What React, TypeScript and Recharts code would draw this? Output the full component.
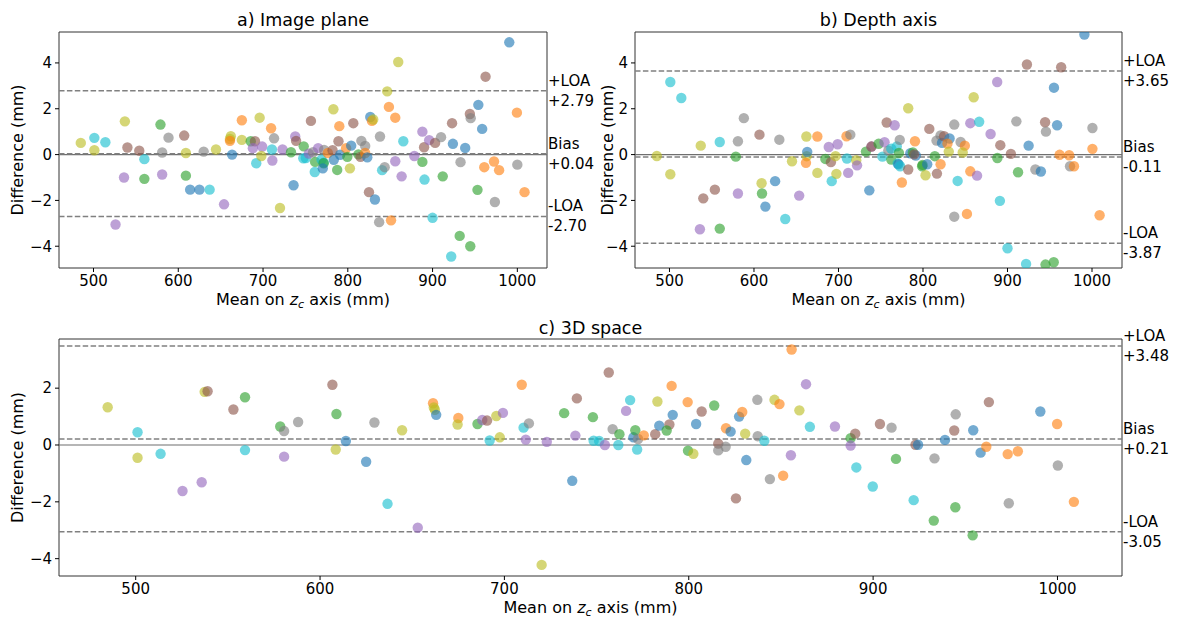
import React from 'react';
import { ScatterChart, Scatter, XAxis, YAxis, ReferenceLine, ReferenceArea } from 'recharts';

const FONT = '"DejaVu Sans", sans-serif';

const COLORS: Record<string, string> = {
  b: '#1f77b4', o: '#ff7f0e', g: '#2ca02c', p: '#9467bd',
  n: '#8c564b', k: '#7f7f7f', y: '#bcbd22', c: '#17becf',
};

const xTicks = [500, 600, 700, 800, 900, 1000];
const yTicksAB = [-4, -2, 0, 2, 4];
const yTicksC = [-4, -2, 0, 2];

// [bias, +LOA, -LOA]
const statsA = [0.04, 2.79, -2.70];
const statsB = [-0.11, 3.65, -3.87];
const statsC = [0.21, 3.48, -3.05];

// [mean z_c, difference, colour]
const panelA: [number, number, string][] = [
  [485,0.51,'y'],[501,0.73,'c'],[501,0.19,'y'],[514,0.54,'c'],[526,-3.05,'p'],[537,1.45,'y'],[536,-1.0,'p'],[540,0.31,'n'],
  [554,0.17,'n'],[560,-0.2,'c'],[560,-1.06,'g'],[579,1.31,'g'],[581,0.09,'k'],[581,-0.87,'p'],[588.5,0.74,'k'],[607,0.83,'n'],
  [609,0.07,'y'],[609,-0.92,'g'],[614,-1.53,'b'],[625,-1.53,'b'],[637,-1.53,'c'],[630,0.13,'k'],[644.5,0.22,'y'],[654,-2.17,'p'],
  [662,0.8,'y'],[661,0.68,'y'],[661,0.6,'o'],[663.5,0,'b'],[675,1.5,'o'],[675,0.64,'y'],[685.5,0.58,'g'],[690.5,0.58,'n'],
  [688,0.28,'p'],[696,1.61,'y'],[699,0.35,'p'],[692,-0.38,'c'],[698,-0.06,'y'],[709.5,1.15,'o'],[713,0.71,'k'],[710.5,0.22,'c'],
  [711,-0.26,'p'],[720,-2.33,'y'],[723,0.22,'p'],[733,0.1,'g'],[738,0.79,'p'],[739,0.6,'n'],[736,-1.34,'b'],[748,0.36,'g'],
  [747.5,-0.16,'c'],[750.5,-0.15,'c'],[756.5,1.47,'n'],[754,0.04,'p'],[759,0.1,'k'],[761.5,-0.32,'g'],[761,-0.76,'c'],[765,0.28,'p'],
  [772,0.2,'k'],[769,-0.22,'c'],[771.5,-0.35,'c'],[771.5,-0.38,'g'],[770.5,-0.6,'b'],[776.5,0.07,'o'],[782,0.19,'n'],[783.5,-0.23,'b'],
  [783,1.98,'y'],[787.5,-0.67,'g'],[789,0.58,'n'],[790,1.24,'o'],[791,-0.01,'b'],[798,0.28,'o'],[799.5,-0.1,'g'],[802.5,-0.6,'y'],
  [804,0.39,'b'],[806.5,1.37,'n'],[812.5,0.01,'g'],[815,-0.1,'n'],[816,0.6,'k'],[820.5,0.38,'k'],[820.5,0.07,'o'],[823,-0.12,'b'],
  [825,-1.64,'n'],[826.5,1.64,'b'],[828.5,1.47,'o'],[830,1.53,'y'],[832,-1.96,'b'],[837,-2.95,'k'],[838,0.79,'k'],[840.5,-0.68,'c'],
  [843.5,-0.55,'k'],[846.5,2.76,'y'],[848.5,2.08,'o'],[851,-2.87,'o'],[856,1.61,'o'],[856,-0.29,'p'],[859.5,4.04,'y'],[865.5,0.58,'c'],
  [863.5,-0.95,'p'],[878.5,-0.06,'p'],[888,1.0,'p'],[888,-0.32,'g'],[890.5,-1.09,'c'],[890,0.32,'n'],[896,0.63,'p'],[903,0.51,'n'],
  [910,0.76,'k'],[900,-2.76,'c'],[912,-0.95,'g'],[923,1.37,'n'],[924,0.47,'b'],[922,-4.45,'c'],[933,-0.33,'k'],[932,-3.55,'g'],
  [938.5,0.29,'b'],[944,1.77,'n'],[945,1.59,'k'],[944.5,-4.0,'g'],[954,2.17,'b'],[953,-1.54,'g'],[958.5,1.12,'b'],[961,-0.55,'o'],
  [962.5,3.4,'n'],[972.5,-0.3,'o'],[978.5,-0.68,'o'],[973.5,-2.07,'k'],[990.5,4.9,'b'],[999.5,1.83,'o'],[1000,-0.44,'k'],[1008.5,-1.64,'o'],
];

const panelB: [number, number, string][] = [
  [485,-0.06,'y'],[501,3.17,'c'],[501,-0.86,'y'],[514,2.47,'c'],[536,-3.26,'p'],[537,0.39,'y'],[540,-1.91,'n'],[553.7,-1.53,'n'],
  [559.5,0.55,'c'],[559.5,-3.23,'g'],[578.5,-0.09,'g'],[581,0.58,'k'],[581,-1.7,'p'],[588,1.59,'k'],[606.5,0.87,'n'],[609,-1.25,'y'],
  [609.5,-1.7,'g'],[613.5,-2.27,'b'],[625,-1.16,'b'],[637,-2.81,'c'],[630,0.65,'k'],[645,-0.29,'y'],[653.5,-1.79,'p'],[662,0.79,'y'],
  [662.4,-0.07,'y'],[663,0.12,'b'],[661.5,-0.36,'o'],[675,0.79,'o'],[675,-0.8,'y'],[684.5,-0.19,'g'],[691,-0.33,'n'],[688.5,0.33,'p'],
  [696.5,-0.07,'y'],[699,0.45,'p'],[692,-1.16,'c'],[697.5,-0.84,'y'],[709.5,0.8,'o'],[714,0.87,'k'],[710,-0.17,'c'],[711.5,-0.8,'p'],
  [721,-0.25,'y'],[722,-0.47,'p'],[732.5,0.13,'g'],[739,0.35,'p'],[739,0.35,'n'],[736.5,-1.56,'b'],[747.5,0.47,'g'],[752,-0.09,'c'],
  [754.5,0.54,'p'],[757,1.4,'n'],[759,0.17,'k'],[762.5,0.26,'c'],[762.5,-0.22,'g'],[766.5,1.28,'p'],[769,0.36,'c'],[772.5,0.64,'k'],
  [771.5,0.07,'g'],[770,-0.39,'c'],[771,-0.42,'b'],[773,-0.51,'c'],[775,-1.22,'o'],[782.5,-0.65,'n'],[785,0.06,'b'],[782.5,2.02,'y'],
  [788,0.09,'g'],[790.5,0.58,'o'],[791.5,-0.04,'b'],[789.5,0.01,'n'],[799,-0.51,'g'],[799.5,-0.45,'g'],[805,-0.42,'b'],[803,-0.9,'y'],
  [807.5,1.12,'n'],[814,-0.07,'g'],[816.5,-0.83,'n'],[816,0.61,'k'],[820.8,0.84,'k'],[820.8,-0.42,'o'],[822.5,0.51,'b'],[825,0.8,'n'],
  [831.5,0.7,'b'],[829,0.48,'o'],[830.5,0.13,'y'],[837,1.31,'k'],[837,-2.71,'k'],[844.5,0.55,'k'],[841,-1.15,'c'],[849.5,0.39,'o'],
  [847,0.09,'y'],[852,-2.59,'o'],[856,-0.73,'o'],[860,2.5,'y'],[856,1.37,'p'],[866.5,1.43,'c'],[864,-0.92,'p'],[880,0.9,'p'],
  [891.5,0.41,'n'],[887.8,3.17,'p'],[888,-0.15,'g'],[891,-2.02,'c'],[904,0.03,'n'],[900,-4.09,'c'],[910.5,1.45,'k'],[912.5,-0.77,'g'],
  [923,3.93,'n'],[925,0.39,'b'],[922,-4.77,'c'],[933,-0.65,'k'],[939.5,-0.74,'b'],[944.5,1.41,'n'],[945.5,1.0,'k'],[945,-4.8,'g'],
  [954.7,-4.7,'g'],[955,2.92,'b'],[958.7,1.28,'b'],[961.7,-0.01,'o'],[963.5,3.81,'n'],[973,-0.03,'o'],[974,-0.51,'k'],[978.7,-0.51,'o'],
  [991,5.24,'b'],[1000.5,1.16,'k'],[1000.5,0.25,'o'],[1009,-2.65,'o'],
];

const panelC: [number, number, string][] = [
  [484.8,1.33,'y'],[501,0.45,'c'],[501,-0.45,'y'],[513.5,-0.31,'c'],[525.4,-1.62,'p'],[535.8,-1.31,'p'],[537.4,1.87,'y'],[539,1.89,'n'],
  [553,1.25,'n'],[559.3,1.68,'g'],[559.3,-0.18,'c'],[578.4,0.65,'g'],[580.5,0.49,'k'],[580.5,-0.41,'p'],[588.1,0.81,'k'],[606.7,2.12,'n'],
  [608.9,1.09,'g'],[608.5,-0.16,'y'],[614,0.14,'b'],[625,-0.59,'b'],[629.5,0.79,'k'],[636.6,-2.07,'c'],[644.5,0.52,'y'],[653,-2.91,'p'],
  [661.3,1.47,'o'],[661.7,1.32,'y'],[662.3,1.24,'y'],[663,1.06,'b'],[675,0.95,'o'],[674.6,0.72,'y'],[685.4,0.74,'g'],[688,0.88,'p'],
  [690.6,0.86,'n'],[692,0.16,'c'],[695.6,1.02,'y'],[699.2,1.13,'p'],[697.5,0.27,'y'],[709.4,2.12,'o'],[710.4,0.61,'c'],[713.3,0.76,'k'],
  [711.6,0.19,'p'],[720.2,-4.22,'y'],[723,0.11,'p'],[732.4,1.12,'g'],[736.8,-1.26,'b'],[738.5,0.33,'p'],[739.3,1.64,'n'],[748,0.98,'g'],
  [748.4,0.15,'c'],[751.4,0.14,'c'],[756.6,2.55,'n'],[754.5,0.0,'p'],[758.7,0.56,'k'],[761.8,0.0,'c'],[762.4,0.38,'g'],[766,1.2,'p'],
  [768.2,1.58,'c'],[770,0.27,'b'],[771,0.52,'g'],[772.5,0.21,'k'],[772,-0.16,'c'],[775.6,0.34,'o'],[783,1.53,'y'],[781.8,0.38,'n'],
  [784,0.68,'b'],[789.5,0.72,'n'],[788,0.51,'g'],[790.7,2.08,'o'],[791.3,1.06,'b'],[799.4,1.51,'o'],[799.6,-0.2,'g'],[802.5,-0.31,'y'],
  [804,0.74,'b'],[807,1.18,'n'],[813.8,1.39,'g'],[816,0.05,'n'],[816,-0.19,'k'],[820,-0.06,'k'],[820.2,0.59,'o'],[822.7,0.47,'b'],
  [825.6,-1.88,'n'],[827.3,1.0,'b'],[829,1.16,'o'],[831.2,-0.53,'b'],[830.6,0.4,'y'],[837.2,1.59,'k'],[837.4,0.31,'k'],[841,0.15,'c'],
  [844,-1.2,'k'],[846.5,1.59,'y'],[849.2,1.44,'o'],[851.2,-1.08,'o'],[855.8,3.36,'o'],[855.4,-0.36,'p'],[860,1.22,'y'],[863.6,2.14,'p'],
  [865.7,0.64,'c'],[879.3,0.65,'p'],[887.8,0.24,'g'],[887.8,-0.02,'p'],[890.3,0.4,'n'],[890.9,-0.79,'c'],[899.8,-1.46,'c'],[903.7,0.74,'n'],
  [910,0.61,'k'],[912.4,-0.49,'g'],[922,-1.94,'c'],[923,0.01,'n'],[924.4,0.01,'b'],[933.3,-0.47,'k'],[932.9,-2.66,'g'],[939,0.18,'b'],
  [944.8,1.08,'k'],[944,0.51,'n'],[944.6,-2.19,'g'],[954.3,0.52,'b'],[954,-3.18,'g'],[958.3,-0.27,'b'],[961.4,-0.06,'o'],[962.8,1.51,'n'],
  [973,-0.32,'o'],[978.5,-0.22,'o'],[973.6,-2.05,'k'],[990.7,1.18,'b'],[999.8,0.74,'o'],[1000.2,-0.72,'k'],[1008.9,-2.0,'o'],
];

const fmtTick = (v: number) => String(v).replace('-', '\u2212');
const fmtStat = (v: number) => (v >= 0 ? '+' : '-') + Math.abs(v).toFixed(2);

const Dot = (props: any) => {
  const { cx, cy, payload } = props;
  if (cx == null || cy == null) return null;
  return <circle cx={cx} cy={cy} r={5.2} fill={COLORS[payload.c]} fillOpacity={0.62} />;
};

const XLab = (props: any) => {
  const vb = props.viewBox || { x: 0, y: 0, width: 0, height: 0 };
  return (
    <text x={vb.x + vb.width / 2} y={vb.y + 37} textAnchor="middle" fontFamily={FONT} fontSize={16} fill="#000">
      Mean on <tspan fontStyle="italic">z</tspan>
      <tspan fontStyle="italic" fontSize={11} dy={3}>c</tspan>
      <tspan dy={-3}> axis (mm)</tspan>
    </text>
  );
};

const YLab = (props: any) => {
  const vb = props.viewBox || { x: 0, y: 0, width: 0, height: 0 };
  const x = 17;
  const y = vb.y + vb.height / 2;
  return (
    <text x={x} y={y} transform={`rotate(-90, ${x}, ${y})`} textAnchor="middle" dominantBaseline="central"
      fontFamily={FONT} fontSize={16} fill="#000">
      Difference (mm)
    </text>
  );
};

const makeAnnot = (top: string, bottom: string) => (props: any) => {
  const vb = props.viewBox || { x: 0, y: 0, width: 0, height: 0 };
  const x = vb.x + vb.width + 1;
  const y = vb.y;
  return (
    <g>
      <text x={x} y={y - 10} dominantBaseline="central" fontFamily={FONT} fontSize={15} fill="#000">{top}</text>
      <text x={x} y={y + 10} dominantBaseline="central" fontFamily={FONT} fontSize={15} fill="#000">{bottom}</text>
    </g>
  );
};

type PanelProps = {
  rows: [number, number, string][];
  stats: number[];
  xDomain: [number, number];
  yDomain: [number, number];
  yTicks: number[];
  width: number;
  height: number;
  margin: { top: number; right: number; bottom: number; left: number };
  yAxisWidth: number;
};

function Panel({ rows, stats, xDomain, yDomain, yTicks, width, height, margin, yAxisWidth }: PanelProps) {
  const data = rows.map(([x, y, c]) => ({ x, y, c }));
  const tickStyle = { fontSize: 15, fill: '#000', fontFamily: FONT };
  return (
    <ScatterChart width={width} height={height} margin={margin}>
      <XAxis dataKey="x" type="number" domain={xDomain} ticks={xTicks} interval={0} allowDataOverflow
        axisLine={false} tickLine={{ stroke: '#000' }} tickSize={4} tickMargin={3} height={42}
        tick={tickStyle} label={<XLab />} />
      <YAxis dataKey="y" type="number" domain={yDomain} ticks={yTicks} interval={0} allowDataOverflow
        axisLine={false} tickLine={{ stroke: '#000' }} tickSize={4} tickMargin={3} width={yAxisWidth}
        tick={tickStyle} tickFormatter={fmtTick} label={<YLab />} />
      <ReferenceLine y={0} stroke="#6f6f6f" strokeWidth={1.2} />
      <ReferenceLine y={stats[1]} stroke="#808080" strokeWidth={1.5} strokeDasharray="5.5 2.4"
        label={makeAnnot('+LOA', fmtStat(stats[1]))} />
      <ReferenceLine y={stats[0]} stroke="#808080" strokeWidth={1.5} strokeDasharray="5.5 2.4"
        label={makeAnnot('Bias', fmtStat(stats[0]))} />
      <ReferenceLine y={stats[2]} stroke="#808080" strokeWidth={1.5} strokeDasharray="5.5 2.4"
        label={makeAnnot('-LOA', fmtStat(stats[2]))} />
      <Scatter data={data} shape={Dot} isAnimationActive={false} />
      <ReferenceArea x1={xDomain[0]} x2={xDomain[1]} y1={yDomain[0]} y2={yDomain[1]} ifOverflow="visible"
        fill="none" fillOpacity={0} stroke="#333" strokeWidth={1} />
    </ScatterChart>
  );
}

const titleStyle: React.CSSProperties = {
  position: 'absolute', textAlign: 'center', fontFamily: FONT, fontSize: 17.5, lineHeight: '20px', color: '#000',
};

export default function App() {
  return (
    <div style={{ position: 'absolute', left: 0, top: 0, width: 1178, height: 618, background: '#fff', overflow: 'hidden' }}>
      <div style={{ position: 'absolute', left: 0, top: 0 }}>
        <Panel rows={panelA} stats={statsA} xDomain={[459.3, 1035]} yDomain={[-4.95, 5.35]} yTicks={yTicksAB}
          width={600} height={310} margin={{ top: 32, right: 53, bottom: 0, left: 0 }} yAxisWidth={59} />
      </div>
      <div style={{ position: 'absolute', left: 590, top: 0 }}>
        <Panel rows={panelB} stats={statsB} xDomain={[459.2, 1035.5]} yDomain={[-4.95, 5.35]} yTicks={yTicksAB}
          width={588} height={310} margin={{ top: 32, right: 56, bottom: 0, left: 0 }} yAxisWidth={45} />
      </div>
      <div style={{ position: 'absolute', left: 0, top: 310 }}>
        <Panel rows={panelC} stats={statsC} xDomain={[458.4, 1035]} yDomain={[-4.61, 3.73]} yTicks={yTicksC}
          width={1178} height={308} margin={{ top: 29, right: 56, bottom: 0, left: 0 }} yAxisWidth={59} />
      </div>
      <div style={{ ...titleStyle, left: 59, width: 488, top: 10 }}>a) Image plane</div>
      <div style={{ ...titleStyle, left: 635, width: 487, top: 10 }}>b) Depth axis</div>
      <div style={{ ...titleStyle, left: 59, width: 1063, top: 318 }}>c) 3D space</div>
    </div>
  );
}
